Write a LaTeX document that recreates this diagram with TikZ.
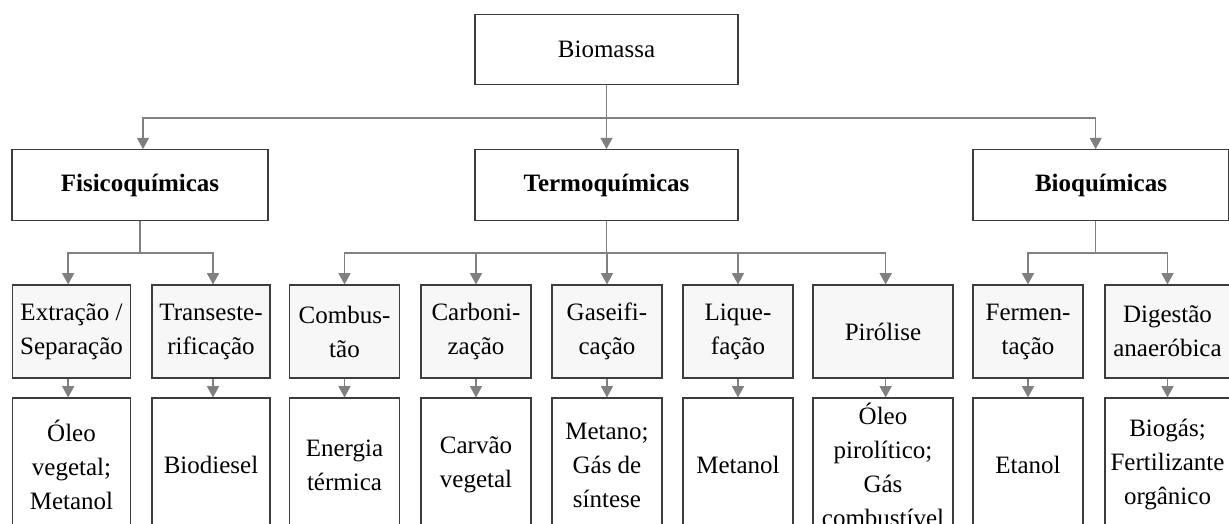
\documentclass[tikz,border=0pt]{standalone}
\usepackage{fontspec}
\setmainfont{Liberation Serif}
\usetikzlibrary{arrows.meta}
\definecolor{conngray}{HTML}{808080}
\definecolor{boxborder}{HTML}{3C3C3C}
\definecolor{procfill}{HTML}{F7F7F7}
\tikzset{
  box/.style={draw=boxborder, line width=0.8pt, fill=white, rectangle, align=center, inner sep=0pt,
    font=\fontsize{18.75pt}{25.5pt}\selectfont},
  topbox/.style={box, minimum height=53pt},
  procbox/.style={box, fill=procfill, minimum height=69.75pt},
  prodbox/.style={box, minimum height=100.5pt},
  ln/.style={draw=conngray, line width=1.1pt},
  arr/.style={ln, -{Triangle[width=9pt,length=8.5pt]}, shorten >=0pt}
}
\begin{document}
\begin{tikzpicture}[x=0.75pt,y=-0.75pt]
\useasboundingbox (0,0) rectangle (1229,524);
\clip (0,0) rectangle (1229,524);
% top
\node[topbox, minimum width=197.25pt] (bio) at (606.5,49.5) {Biomassa};
\node[topbox, minimum width=192pt, font=\fontsize{18.75pt}{25.5pt}\selectfont\bfseries] (fis) at (140,185) {Fisicoquímicas};
\node[topbox, minimum width=197.25pt, font=\fontsize{18.75pt}{25.5pt}\selectfont\bfseries] (ter) at (606.5,185) {Termoquímicas};
\node[topbox, minimum width=192pt, font=\fontsize{18.75pt}{25.5pt}\selectfont\bfseries] (bq) at (1101,185) {Bioquímicas};
% processes
\node[procbox, minimum width=88.5pt] (ext) at (71.5,331.5) {Extração /\\Separação};
\node[procbox, minimum width=88.5pt] (tra) at (211,331.5) {Transeste-\\rificação};
\node[procbox, minimum width=82.5pt] (com) at (344.5,331.5) {Combus-\\tão};
\node[procbox, minimum width=82.5pt] (car) at (476,331.5) {Carboni-\\zação};
\node[procbox, minimum width=82.5pt] (gas) at (607,331.5) {Gaseifi-\\cação};
\node[procbox, minimum width=82.5pt] (liq) at (738,331.5) {Lique-\\fação};
\node[procbox, minimum width=105pt] (pir) at (883,331.5) {Pirólise};
\node[procbox, minimum width=82.5pt] (fer) at (1028,331.5) {Fermen-\\tação};
\node[procbox, minimum width=93.75pt] (dig) at (1167.5,331.5) {Digestão\\anaeróbica};
% products
\node[prodbox, minimum width=88.5pt] (extp) at (71.5,465) {Óleo\\vegetal;\\Metanol};
\node[prodbox, minimum width=88.5pt] (trap) at (211,465) {Biodiesel};
\node[prodbox, minimum width=82.5pt] (comp) at (344.5,465) {Energia\\térmica};
\node[prodbox, minimum width=82.5pt] (carp) at (476,465) {Carvão\\vegetal};
\node[prodbox, minimum width=82.5pt] (gasp) at (607,465) {Metano;\\Gás de\\síntese};
\node[prodbox, minimum width=82.5pt] (liqp) at (738,465) {Metanol};
\node[prodbox, minimum width=105pt] (pirp) at (883,465) {Óleo\\pirolítico;\\Gás\\combustível};
\node[prodbox, minimum width=82.5pt] (ferp) at (1028,465) {Etanol};
\node[prodbox, minimum width=93.75pt] (digp) at (1167.5,465) {Biogás;\\Fertilizante\\orgânico};
% level 1 connectors
\coordinate (j0) at (606.5,118);
\draw[ln] (bio.south) -- (j0);
\draw[arr] (j0) -| ([xshift=2.25pt]fis.north);
\draw[arr] (j0) -- (ter.north);
\draw[arr] (j0) -| ([xshift=-4pt]bq.north);
% level 2 connectors
\coordinate (j1) at (140,253);
\draw[ln] (fis.south) -- (j1);
\draw[arr] (j1) -| ([xshift=-2.5pt]ext.north);
\draw[arr] (j1) -| ([xshift=1.5pt]tra.north);
\coordinate (j2) at (606.5,253);
\draw[ln] (ter.south) -- (j2);
\draw[arr] (j2) -| (com.north);
\draw[arr] (j2) -| (car.north);
\draw[arr] (j2) -| (gas.north);
\draw[arr] (j2) -| (liq.north);
\draw[arr] (j2) -| ([xshift=2pt]pir.north);
\coordinate (bqs) at ([xshift=-4pt]bq.south);
\coordinate (j3) at (bqs |- j1);
\draw[ln] (bqs) -- (j3);
\draw[arr] (j3) -| (fer.north);
\draw[arr] (j3) -| (dig.north);
% level 3 connectors
\draw[arr] ([xshift=-2.5pt]ext.south) -- ([xshift=-2.5pt]extp.north);
\draw[arr] ([xshift=1.5pt]tra.south) -- ([xshift=1.5pt]trap.north);
\draw[arr] (com.south) -- (comp.north);
\draw[arr] (car.south) -- (carp.north);
\draw[arr] (gas.south) -- (gasp.north);
\draw[arr] (liq.south) -- (liqp.north);
\draw[arr] ([xshift=2pt]pir.south) -- ([xshift=2pt]pirp.north);
\draw[arr] (fer.south) -- (ferp.north);
\draw[arr] (dig.south) -- (digp.north);
\end{tikzpicture}
\end{document}
